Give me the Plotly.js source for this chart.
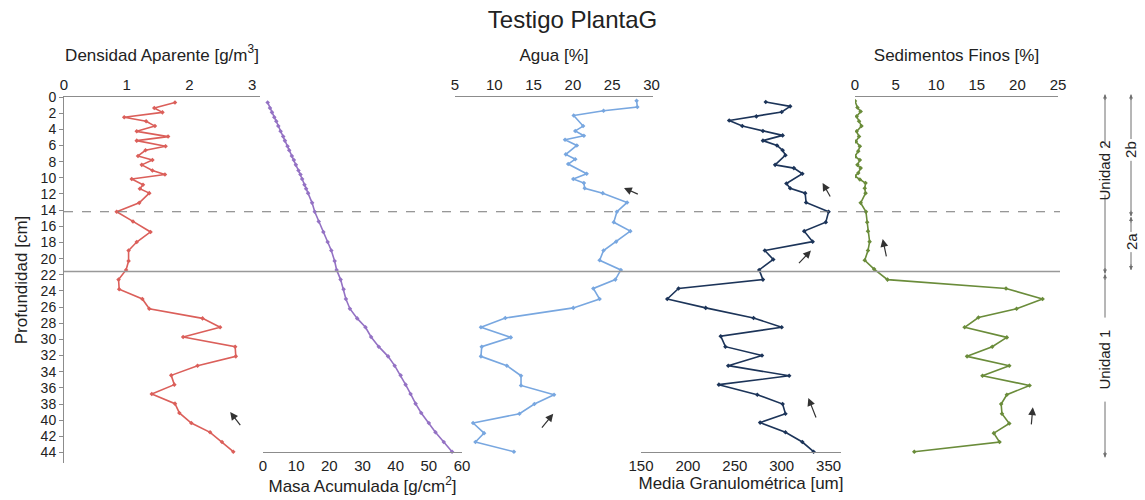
<!DOCTYPE html>
<html>
<head>
<meta charset="utf-8">
<script src="https://cdn.plot.ly/plotly-3.0.1.min.js"></script>
<style>html,body{margin:0;padding:0;background:#fff;}#chart{width:1145px;height:500px;}</style>
</head>
<body>
<div id="chart"></div>
<script>
// ---- Data ----
var depthA = [0.67,1.37,1.9,2.5,3.0,3.6,4.25,4.9,5.4,6.1,6.6,7.3,7.8,8.4,9.1,9.6,10.15,10.85,11.35,11.9,13.1,14.2,15.4,16.7,17.95,19.0,20.3,21.4,22.6,23.8,25.0,26.2,27.4,28.5,29.7,30.9,32.1,33.25,34.45,35.6,36.75,37.95,39.1,40.35,41.5,42.7,43.9];
var densidad = [1.77,1.44,1.57,0.96,1.31,1.45,1.16,1.66,1.16,1.62,1.30,1.18,1.41,1.24,1.41,1.61,1.08,1.26,1.21,1.36,1.20,0.84,1.10,1.38,1.16,1.03,1.03,0.99,0.87,0.88,1.25,1.36,2.21,2.49,1.90,2.73,2.74,2.13,1.71,1.76,1.40,1.77,1.84,2.03,2.33,2.52,2.70];
var masa = [1.4,2.1,2.7,3.4,4.0,4.6,5.3,6.1,6.6,7.4,7.9,8.7,9.3,9.9,10.7,11.3,11.8,12.5,13.0,13.6,14.8,15.6,16.8,18.2,19.5,20.6,21.6,22.2,23.4,24.3,25.0,26.2,28.4,30.9,32.6,34.9,37.7,39.7,41.5,43.0,44.5,46.0,47.7,50.0,52.0,54.5,57.0];

var depthAgua = [0.46,1.24,1.7,2.3,3.6,4.2,4.8,5.3,6.0,7.1,7.7,8.3,9.5,10.15,10.65,11.3,11.9,13.05,14.2,15.5,16.6,17.9,19.0,20.2,21.4,22.6,23.7,25.0,26.1,27.35,28.5,29.75,30.9,32.1,33.25,34.5,35.7,36.85,38.0,39.2,40.35,41.6,42.7,43.9];
var agua = [28.1,28.2,23.9,20.1,21.3,20.3,21.4,19.0,20.5,19.1,20.3,19.4,21.75,20.05,21.4,21.5,23.8,26.9,25.6,25.2,27.3,25.5,23.9,23.4,26.1,25.4,22.6,23.4,20.05,11.4,8.3,12.1,8.4,8.3,11.6,13.4,13.4,17.6,15.1,13.2,7.3,8.7,7.6,12.5];

var depthMedia = [0.62,1.16,1.86,2.4,2.9,3.6,4.2,4.75,5.4,6.0,6.6,7.2,8.4,8.8,9.5,10.7,11.3,11.9,13.05,14.2,15.5,16.6,17.9,19.0,20.1,21.4,22.6,23.7,25.0,26.1,27.35,28.5,29.6,30.9,32.0,33.25,34.5,35.6,36.85,38.0,39.2,40.3,41.5,42.7,43.9];
var media = [283,309,300,273,244,258,280,301,280,295,301,304,293,313,322,305,309,325,326,350,347,324,333,282,291,276,280,190,178,219,270,300,235,240,279,243,308,233,274,301,304,277,304,322,334];

var depthSed = [0.5,1.3,1.8,2.4,3.0,3.6,4.25,4.9,5.5,6.1,6.7,7.35,7.8,8.4,8.8,9.4,9.8,10.2,10.65,11.3,11.9,13.1,14.2,15.5,16.6,17.9,19.0,20.2,21.3,22.6,23.7,25.0,26.2,27.3,28.5,29.75,30.9,32.1,33.25,34.5,35.7,36.85,38.0,39.2,40.4,41.6,42.7,43.9];
var sedimentos = [0,0.3,0.7,0.2,0.5,0.8,0.2,0.5,0.1,0.6,0.4,0.0,0.6,0.3,0.7,0.4,0.0,0.6,1.3,1.2,1.3,0.7,1.35,1.5,1.6,1.8,1.6,1.2,2.35,4.0,18.6,23.1,19.9,15.2,13.5,18.7,16.9,13.8,19.0,15.7,21.5,18.7,18.0,18.1,19.0,17.1,17.8,7.3];

var limite2a2b = 14.2;     // dashed boundary depth
var limiteUnidades = 21.6; // solid boundary depth

// ---- Layout geometry ----
var W = 1145, H = 500, L = 64, R = 85, T = 97, B = 37;
var PW = W - L - R, PH = H - T - B;
function px(p){ return (p - L) / PW; }
var pxPerCm = 8.08;
var yMax = PH / pxPerCm;
function yp(d){ return 1 - d / yMax; }   // depth -> paper fraction
var bottomAxisPos = (H - B - 452) / PH;

var FONT = 'Liberation Sans, Arial, sans-serif';
var AX = '#8c8c8c';

function mk(x, y, xa, color, msize, sym){
  return {x:x, y:y, xaxis:xa, yaxis:'y', type:'scatter', mode:'lines+markers',
    line:{color:color, width:1.6}, marker:{color:color, size:msize, symbol:sym},
    hoverinfo:'x+y'};
}
var traces = [
  mk(densidad, depthA, 'x', '#db5f5a', 3.5, 'diamond'),
  mk(masa, depthA, 'x2', '#9472c4', 3.5, 'diamond'),
  mk(agua, depthAgua, 'x3', '#78a7e0', 3.5, 'diamond'),
  mk(media, depthMedia, 'x4', '#1c3459', 3.5, 'diamond'),
  mk(sedimentos, depthSed, 'x5', '#6a8c3a', 3.5, 'diamond')
];

function xa(opts){
  var base = {showline:true, linecolor:AX, linewidth:1, showgrid:false, zeroline:false,
    ticks:'', tickfont:{family:FONT, size:15, color:'#222'}, fixedrange:true};
  for (var k in opts) base[k] = opts[k];
  return base;
}
function ttl(t, s){ return {text:t, font:{family:FONT, size:17, color:'#222'}, standoff:s}; }

var layout = {
  width: W, height: H,
  margin:{l:L, r:R, t:T, b:B},
  paper_bgcolor:'#fff', plot_bgcolor:'rgba(0,0,0,0)',
  showlegend:false,
  font:{family:FONT, color:'#222'},
  title:{text:'Testigo PlantaG', x:0.5, xref:'container', y:1-20/H, yref:'container', yanchor:'middle', font:{family:FONT, size:24, color:'#222'}},
  yaxis:{range:[yMax, 0], domain:[0,1], showline:true, linecolor:AX, linewidth:1, showgrid:false, zeroline:false,
    tick0:0, dtick:2, ticks:'outside', ticklen:4, tickcolor:AX, tickfont:{family:FONT, size:14, color:'#222'},
    title:ttl('Profundidad [cm]', 8), fixedrange:true},
  xaxis: xa({domain:[px(64), px(260)], range:[0, 196/62.7], side:'top', anchor:'y', tickvals:[0,1,2,3],
    title:ttl('Densidad Aparente [g/m<sup>3</sup>]', 10)}),
  xaxis2: xa({domain:[px(263), px(462)], range:[0, 60], side:'bottom', anchor:'free', position:bottomAxisPos, dtick:10,
    title:ttl('Masa Acumulada [g/cm<sup>2</sup>]', 4)}),
  xaxis3: xa({domain:[px(455), px(653)], range:[5, 5 + 198/7.86], side:'top', anchor:'y', tickvals:[5,10,15,20,25,30],
    title:ttl('Agua [%]', 10)}),
  xaxis4: xa({domain:[px(641), px(841)], range:[150, 150 + 200/0.938], side:'bottom', anchor:'free', position:bottomAxisPos, tickvals:[150,200,250,300,350],
    title:ttl('Media Granulométrica [um]', 4)}),
  xaxis5: xa({domain:[px(855), px(1058)], range:[0, 25], side:'top', anchor:'y', tickvals:[0,5,10,15,20,25],
    title:ttl('Sedimentos Finos [%]', 10)}),
  shapes:[
    {type:'line', xref:'paper', yref:'y', x0:0, x1:1, y0:limite2a2b, y1:limite2a2b, line:{color:'#777', width:1, dash:'dash'}},
    {type:'line', xref:'paper', yref:'y', x0:0, x1:1, y0:limiteUnidades, y1:limiteUnidades, line:{color:'#999', width:1.5}}
  ],
  annotations:[]
};

// trend arrows (head -> tail in data units of each panel)
var trend = [
  ['x', 2.65, 39.0, 2.83, 40.8],
  ['x3', 26.5, 11.26, 28.45, 12.1],
  ['x3', 17.5, 39.2, 15.9, 41.1],
  ['x4', 343.6, 10.64, 352.6, 12.5],
  ['x4', 331.2, 19.0, 316.9, 20.75],
  ['x4', 328.4, 37.25, 337.2, 39.85],
  ['x5', 3.41, 17.57, 3.9, 19.9],
  ['x5', 21.9, 38.4, 21.7, 40.7]
];
trend.forEach(function(a){
  layout.annotations.push({xref:a[0], yref:'y', x:a[1], y:a[2], axref:a[0], ayref:'y', ax:a[3], ay:a[4],
    text:'', showarrow:true, arrowhead:2, arrowsize:1.3, arrowwidth:1.2, arrowcolor:'#333'});
});

// unit brackets at right
var brackets = [
  {xp:1105, top:-0.3, bottom:21.85, t0:6.1, t1:12.1, label:'Unidad 2'},
  {xp:1105, top:21.95, bottom:44.6, t0:27.3, t1:37.7, label:'Unidad 1'},
  {xp:1131, top:-0.3, bottom:14.75, t0:5.2, t1:7.9, label:'2b'},
  {xp:1131, top:14.85, bottom:21.4, t0:16.7, t1:19.2, label:'2a'}
];
brackets.forEach(function(b){
  var xr = px(b.xp);
  layout.annotations.push({xref:'paper', yref:'paper', x:xr, y:yp((b.t0+b.t1)/2), xanchor:'center', yanchor:'middle',
    text:b.label, textangle:-90, showarrow:false, font:{family:FONT, size:15, color:'#222'}});
  layout.shapes.push({type:'line', xref:'paper', yref:'paper', x0:xr, x1:xr, y0:yp(b.top), y1:yp(b.t0), line:{color:'#6e6e6e', width:1}});
  layout.shapes.push({type:'line', xref:'paper', yref:'paper', x0:xr, x1:xr, y0:yp(b.t1), y1:yp(b.bottom), line:{color:'#6e6e6e', width:1}});
  layout.annotations.push({xref:'paper', yref:'paper', x:xr, y:yp(b.top), ax:0, ay:7, text:'', showarrow:true,
    arrowhead:2, arrowsize:0.8, arrowwidth:1, arrowcolor:'#6e6e6e'});
  layout.annotations.push({xref:'paper', yref:'paper', x:xr, y:yp(b.bottom), ax:0, ay:-7, text:'', showarrow:true,
    arrowhead:2, arrowsize:0.8, arrowwidth:1, arrowcolor:'#6e6e6e'});
});

Plotly.newPlot('chart', traces, layout, {displayModeBar:false, responsive:false});
</script>
</body>
</html>
